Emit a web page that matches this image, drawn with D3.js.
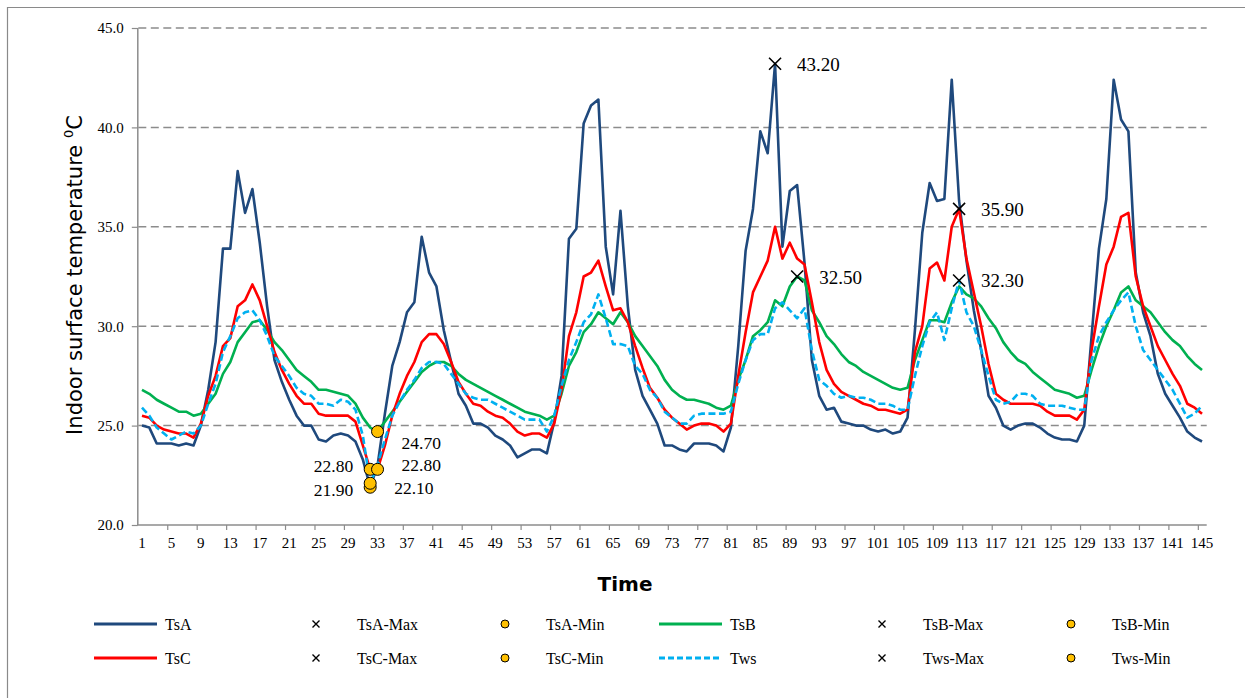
<!DOCTYPE html>
<html><head><meta charset="utf-8">
<script src="https://cdnjs.cloudflare.com/ajax/libs/d3/7.8.5/d3.min.js"></script>
<style>body{margin:0;background:#fff}svg{display:block}</style>
</head><body>
<svg id="chart" width="1245" height="698"></svg>
<script>
// ---------- data ----------
const categories = d3.range(1, 146);
const tickLabels = d3.range(1, 146, 4);
const yTicks = [20, 25, 30, 35, 40, 45];
const seriesNames = ["TsA", "TsB", "TsC", "Tws"];

const tsA = [25.0,24.9,24.1,24.1,24.1,24.0,24.1,24.0,25.0,26.8,
29.2,33.9,33.9,37.8,35.7,36.9,34.2,31.0,28.3,27.2,
26.3,25.5,25.0,25.0,24.3,24.2,24.5,24.6,24.5,24.2,
23.3,21.9,23.0,25.6,28.0,29.2,30.7,31.2,34.5,32.7,
32.0,29.8,28.2,26.6,26.0,25.1,25.1,24.9,24.5,24.3,
24.0,23.4,23.6,23.8,23.8,23.6,25.2,27.5,34.4,34.9,
40.2,41.1,41.4,34.0,31.6,35.8,31.0,27.8,26.5,25.8,
25.1,24.0,24.0,23.8,23.7,24.1,24.1,24.1,24.0,23.7,
24.9,29.0,33.8,35.9,39.8,38.7,43.2,34.0,36.8,37.1,
33.2,28.3,26.5,25.8,25.9,25.2,25.1,25.0,25.0,24.8,
24.7,24.8,24.6,24.7,25.4,29.8,34.7,37.2,36.3,36.4,
42.4,36.3,33.3,30.8,28.8,26.5,25.9,25.0,24.8,25.0,
25.1,25.1,24.9,24.6,24.4,24.3,24.3,24.2,25.0,29.5,
33.9,36.4,42.4,40.4,39.8,32.7,30.7,29.5,27.6,26.6,
26.0,25.4,24.7,24.4,24.2];

const tsB = [26.8,26.6,26.3,26.1,25.9,25.7,25.7,25.5,25.6,26.1,
26.6,27.6,28.2,29.2,29.7,30.2,30.3,29.8,29.2,28.8,
28.3,27.8,27.5,27.2,26.8,26.8,26.7,26.6,26.5,26.1,
25.4,24.9,24.7,25.2,25.7,26.2,26.7,27.2,27.7,28.0,
28.2,28.2,28.0,27.6,27.3,27.1,26.9,26.7,26.5,26.3,
26.1,25.9,25.7,25.6,25.5,25.3,25.5,26.6,28.0,28.7,
29.7,30.1,30.7,30.4,30.1,30.7,30.2,29.5,29.0,28.5,
28.0,27.3,26.8,26.5,26.3,26.3,26.2,26.1,25.9,25.8,
26.0,27.3,28.3,29.5,29.8,30.2,31.3,31.0,32.0,32.5,
32.3,30.8,30.2,29.5,29.1,28.6,28.2,28.0,27.7,27.5,
27.3,27.1,26.9,26.8,26.9,28.3,29.3,30.3,30.3,30.2,
31.2,32.0,31.6,31.4,31.0,30.4,29.9,29.2,28.7,28.3,
28.1,27.7,27.4,27.1,26.8,26.7,26.6,26.4,26.5,27.8,
29.0,30.0,30.8,31.7,32.0,31.3,31.0,30.7,30.2,29.7,
29.3,29.0,28.5,28.1,27.8];

const tsC = [25.5,25.4,25.0,24.8,24.7,24.6,24.6,24.4,25.1,26.5,
27.5,29.0,29.4,31.0,31.3,32.1,31.3,30.0,28.7,27.8,
27.1,26.5,26.1,26.1,25.6,25.5,25.5,25.5,25.5,25.2,
24.0,22.8,22.8,24.0,25.5,26.6,27.5,28.2,29.2,29.6,
29.6,29.1,28.2,27.2,26.6,26.1,26.0,25.7,25.5,25.4,
25.1,24.7,24.5,24.6,24.6,24.4,25.1,26.8,29.5,30.7,
32.5,32.7,33.3,32.0,30.8,30.9,30.2,29.0,27.9,26.9,
26.4,25.8,25.4,25.1,24.8,25.0,25.1,25.1,25.0,24.7,
25.1,27.5,29.7,31.7,32.5,33.3,35.0,33.4,34.2,33.4,
33.1,31.2,29.2,27.8,27.1,26.7,26.5,26.3,26.1,26.0,
25.8,25.8,25.7,25.6,25.8,28.7,30.0,32.9,33.2,32.3,
35.0,35.9,33.4,31.7,30.0,28.1,26.6,26.3,26.1,26.1,
26.1,26.1,26.0,25.7,25.5,25.5,25.5,25.3,25.8,28.8,
31.0,33.1,34.0,35.5,35.7,32.5,31.0,30.0,29.0,28.3,
27.6,27.0,26.1,25.9,25.6];

const tws = [25.9,25.5,24.9,24.6,24.3,24.5,24.7,24.6,25.0,26.1,
27.1,28.7,29.5,30.4,30.7,30.8,30.3,29.5,28.5,28.0,
27.5,26.9,26.6,26.5,26.1,26.1,26.0,26.3,26.2,25.8,
24.5,22.1,23.0,24.3,25.5,26.2,26.8,27.3,27.9,28.2,
28.2,28.1,27.6,27.1,26.6,26.4,26.3,26.3,26.1,25.9,
25.7,25.5,25.3,25.3,25.3,24.7,25.5,27.0,28.3,29.2,
30.2,30.6,31.6,30.4,29.1,29.1,29.0,28.0,27.6,26.8,
26.4,25.7,25.4,25.1,25.1,25.5,25.6,25.6,25.6,25.6,
25.7,27.1,28.3,29.3,29.6,29.6,30.9,31.2,30.8,30.4,
30.9,28.8,27.3,27.0,26.6,26.4,26.5,26.4,26.4,26.3,
26.1,26.1,26.0,25.8,25.8,27.5,29.0,30.2,30.7,29.3,
30.9,32.3,30.7,30.0,28.8,27.5,26.3,26.1,26.2,26.6,
26.6,26.5,26.1,26.0,26.0,26.0,25.9,25.8,25.8,28.3,
29.5,30.2,30.8,31.3,31.7,30.0,28.8,28.3,27.8,27.3,
26.8,26.1,25.4,25.6,26.0];

// ---------- styles ----------
const seriesData = {TsA: tsA, TsB: tsB, TsC: tsC, Tws: tws};
const colors = {TsA: "#1F497D", TsB: "#00B050", TsC: "#FF0000", Tws: "#00B0F0"};
const dashes = {TsA: null, TsB: null, TsC: null, Tws: "7,3.5"};
const serif = "'Liberation Serif','Times New Roman',serif";

const svg = d3.select("#chart");
const W = 1245, H = 698;
const plot = {left: 138.3, right: 1205.7, top: 28, bottom: 525};

// border (cropped chart frame)
svg.append("path").attr("d", `M7.5,${H} V7.5 H${W}`)
  .attr("fill", "none").attr("stroke", "#8a8a8a").attr("stroke-width", 1.2);

const x = d3.scaleBand().domain(categories).range([plot.left, plot.right]).padding(0);
const xc = d => x(d) + x.bandwidth() / 2;
const y = d3.scaleLinear().domain([20, 45]).range([plot.bottom, plot.top]);

// gridlines
svg.append("g").selectAll("line").data(yTicks.filter(t => t > 20)).join("line")
  .attr("x1", plot.left).attr("x2", plot.right + 1)
  .attr("y1", d => y(d)).attr("y2", d => y(d))
  .attr("stroke", "#8c8c8c").attr("stroke-width", 1.5).attr("stroke-dasharray", "8,4.5");

// y axis
const yAxis = d3.axisLeft(y).tickValues(yTicks).tickFormat(d3.format(".1f")).tickSize(6).tickPadding(8);
const gy = svg.append("g").attr("transform", `translate(${plot.left - 0.5},0)`).call(yAxis);
gy.select(".domain").attr("stroke", "#8c8c8c").attr("stroke-width", 1.5).attr("d", `M0,${plot.bottom}V${plot.top}`);
gy.selectAll(".tick line").attr("stroke", "#8c8c8c").attr("stroke-width", 1.2);
gy.selectAll(".tick text").attr("font-family", serif).attr("font-size", 15).attr("fill", "#000");

// x axis (custom: ticks on category boundaries every 4)
const gx = svg.append("g");
gx.append("line").attr("x1", plot.left - 1).attr("x2", plot.right + 1)
  .attr("y1", plot.bottom).attr("y2", plot.bottom)
  .attr("stroke", "#8c8c8c").attr("stroke-width", 1.5);
gx.selectAll("line.tk").data(tickLabels.filter(d => d > 1)).join("line").attr("class", "tk")
  .attr("x1", d => x(d)).attr("x2", d => x(d))
  .attr("y1", plot.bottom).attr("y2", plot.bottom + 5)
  .attr("stroke", "#8c8c8c").attr("stroke-width", 1.2);
gx.selectAll("text").data(tickLabels).join("text")
  .attr("x", d => xc(d)).attr("y", 548)
  .attr("text-anchor", "middle").attr("font-family", serif).attr("font-size", 15)
  .text(d => d);

// lines
const line = d3.line().x((d, i) => xc(categories[i])).y(d => y(d));
seriesNames.forEach(name => {
  svg.append("path").datum(seriesData[name])
    .attr("d", line).attr("fill", "none")
    .attr("stroke", colors[name]).attr("stroke-width", 2.6)
    .attr("stroke-linejoin", "round")
    .attr("stroke-dasharray", dashes[name]);
});

// max / min markers computed from data
function crossPath(cx, cy, s) {
  return `M${cx - s},${cy - s}L${cx + s},${cy + s}M${cx - s},${cy + s}L${cx + s},${cy - s}`;
}
const maxPts = [], minPts = [];
seriesNames.forEach(name => {
  const arr = seriesData[name];
  const mx = d3.max(arr), mn = d3.min(arr);
  arr.forEach((v, i) => {
    if (v === mx) maxPts.push({name, cat: categories[i], v});
    if (v === mn) minPts.push({name, cat: categories[i], v});
  });
});
// label placement per point (side and vertical offset)
const minLabelPos = {"TsA-32": ["left", 3], "TsB-33": ["right", 11], "TsC-32": ["left", -3],
                     "TsC-33": ["right", -4], "Tws-32": ["right", 5]};

const fmt = d3.format(".2f");
maxPts.forEach(p => {
  const cx = xc(p.cat), cy = y(p.v);
  svg.append("path").attr("d", crossPath(cx, cy, 6)).attr("stroke", "#000").attr("stroke-width", 1.6);
  svg.append("text").attr("x", cx + 22).attr("y", cy + 7)
    .attr("font-family", serif).attr("font-size", 19).text(fmt(p.v));
});
minPts.forEach(p => {
  const cx = xc(p.cat), cy = y(p.v);
  svg.append("circle").attr("cx", cx).attr("cy", cy).attr("r", 6)
    .attr("fill", "#FFC000").attr("stroke", "#000").attr("stroke-width", 1);
});
minPts.forEach(p => {
  const cx = xc(p.cat), cy = y(p.v);
  const pos = minLabelPos[p.name + "-" + p.cat] || ["right", 0];
  const t = svg.append("text").attr("y", cy + pos[1] + 6)
    .attr("font-family", serif).attr("font-size", 17.5).text(fmt(p.v));
  if (pos[0] === "left") t.attr("x", cx - 17).attr("text-anchor", "end");
  else t.attr("x", cx + 24);
});

// axis titles
svg.append("text").attr("transform", "translate(82,275) rotate(-90)")
  .attr("text-anchor", "middle").attr("font-family", "'DejaVu Sans',sans-serif").attr("font-size", 21)
  .call(t => {
    t.append("tspan").text("Indoor surface temperature ");
    t.append("tspan").attr("font-size", 13).attr("dy", -9).text("0");
    t.append("tspan").attr("dy", 9).text("C");
  });
svg.append("text").attr("x", 625).attr("y", 591).attr("text-anchor", "middle")
  .attr("font-family", "'DejaVu Sans',sans-serif").attr("font-weight", "bold").attr("font-size", 20)
  .text("Time");

// legend
const legendRows = [["TsA", "TsB"], ["TsC", "Tws"]];
const colText = [165, 357, 546, 730, 923, 1112];
const rowY = [624, 658];
const lg = svg.append("g");
legendRows.forEach((row, r) => {
  row.forEach((name, k) => {
    const base = k * 3;
    const cy = rowY[r];
    lg.append("line").attr("x1", colText[base] - 71).attr("x2", colText[base] - 8)
      .attr("y1", cy).attr("y2", cy).attr("stroke", colors[name]).attr("stroke-width", 3)
      .attr("stroke-dasharray", name === "Tws" ? "6,3" : null);
    lg.append("text").attr("x", colText[base]).attr("y", cy + 5.5)
      .attr("font-family", serif).attr("font-size", 16).text(name);
    const mxX = colText[base + 1] - 41;
    lg.append("path").attr("d", crossPath(mxX, cy, 3.5)).attr("stroke", "#000").attr("stroke-width", 1.4);
    lg.append("text").attr("x", colText[base + 1]).attr("y", cy + 5.5)
      .attr("font-family", serif).attr("font-size", 16).text(name + "-Max");
    const mnX = colText[base + 2] - 41;
    lg.append("circle").attr("cx", mnX).attr("cy", cy).attr("r", 4)
      .attr("fill", "#FFC000").attr("stroke", "#000").attr("stroke-width", 1);
    lg.append("text").attr("x", colText[base + 2]).attr("y", cy + 5.5)
      .attr("font-family", serif).attr("font-size", 16).text(name + "-Min");
  });
});
</script>
</body></html>
